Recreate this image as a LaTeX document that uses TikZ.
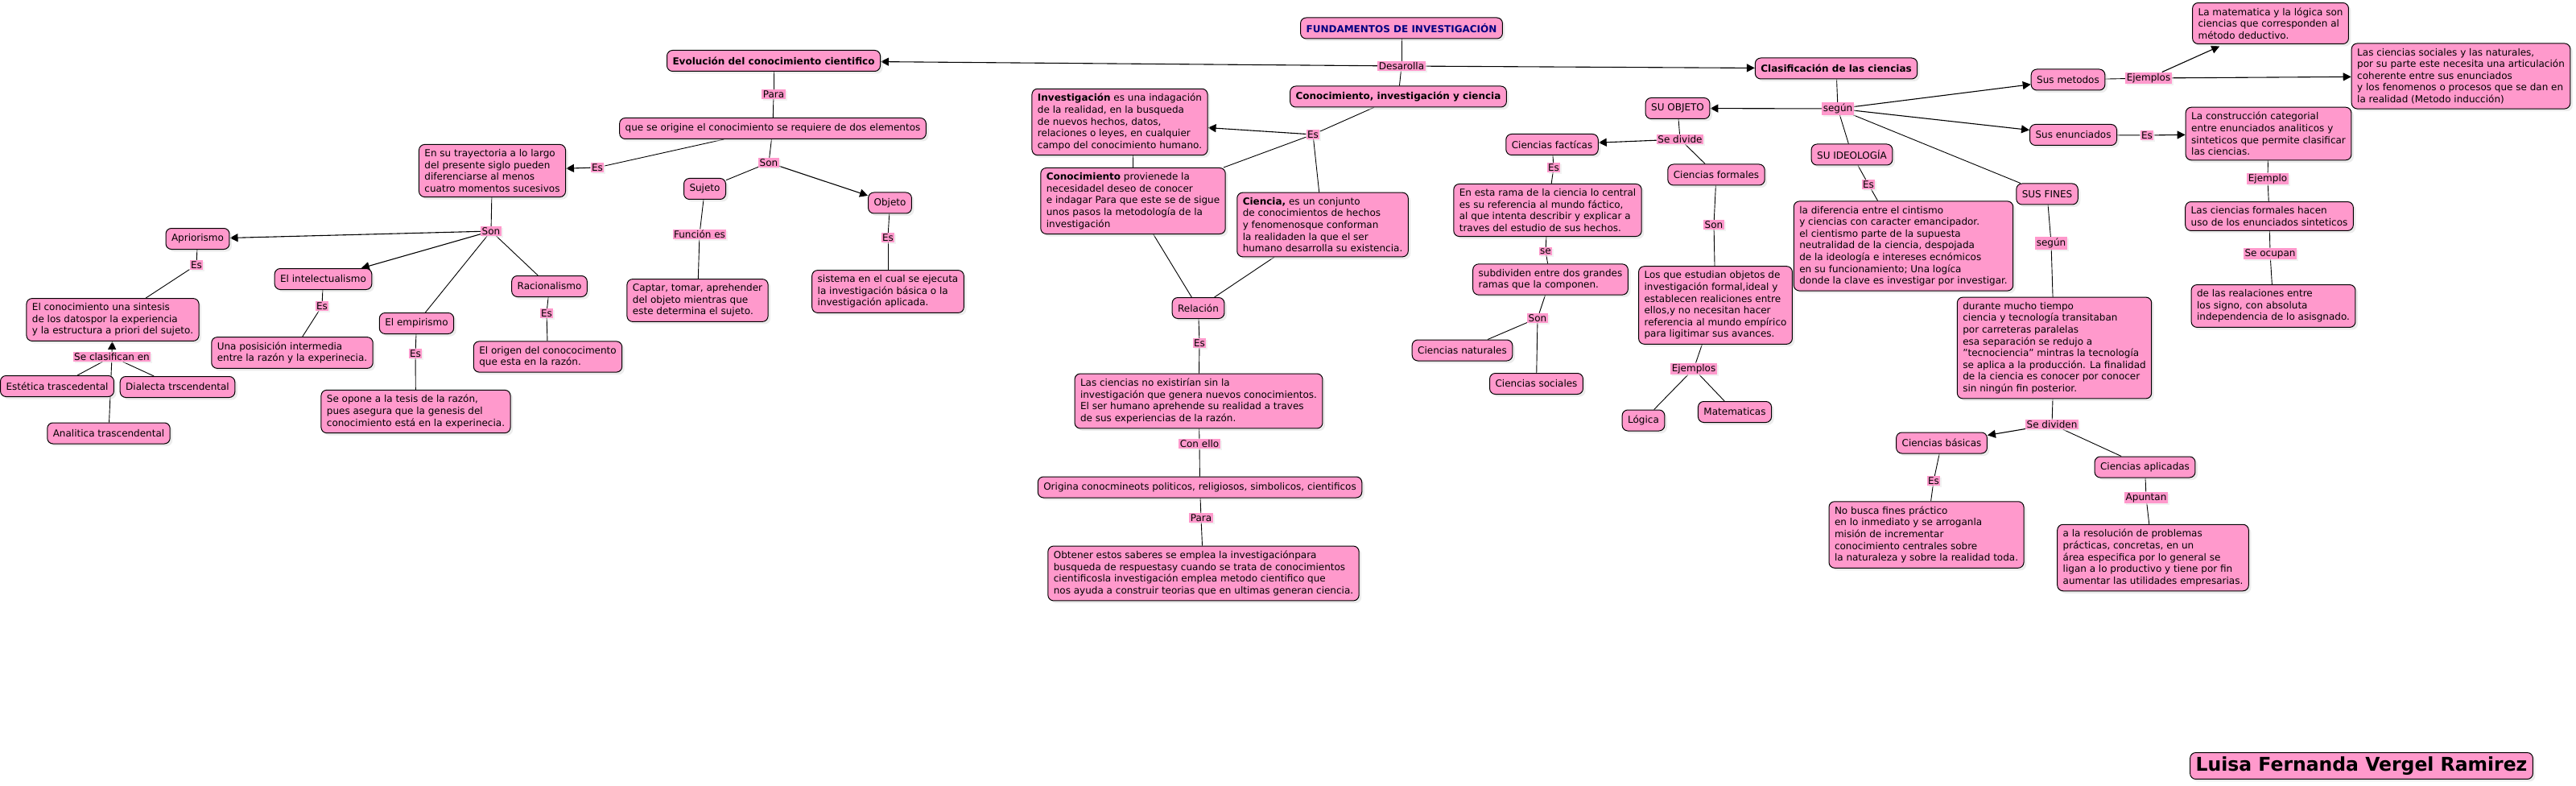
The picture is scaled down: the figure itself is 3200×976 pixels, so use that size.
\documentclass[tikz,border=0pt]{standalone}
\usepackage{fontspec}
\setmainfont{DejaVu Sans}
\usepackage{tikz}
\usetikzlibrary{arrows.meta,shadows,backgrounds}
\definecolor{mappink}{HTML}{FF99CC}
\definecolor{titlenavy}{HTML}{000080}
\newcommand{\mapfont}{\fontsize{12}{14.6}\selectfont}
\tikzset{
  concept/.style={draw=black,line width=1pt,rounded corners=7pt,fill=mappink,align=left,minimum height=26pt,inner xsep=7pt,inner ysep=6pt,font=\mapfont,drop shadow={shadow xshift=3pt,shadow yshift=-3pt,fill=black!15}},
  linkword/.style={fill=mappink,inner sep=1.5pt,font=\mapfont,drop shadow={shadow xshift=2pt,shadow yshift=-2pt,fill=black!10}},
  flow/.style={-{Triangle[length=10pt,width=10pt]},line width=1.1pt},
  treeline/.style={line width=.9pt},
}
\begin{document}
\begin{tikzpicture}[x=1pt,y=-1pt]
  \useasboundingbox (0,0) rectangle (3200,976);
  \node[concept,font=\mapfont\bfseries,text=titlenavy] (fund) at (1741,35) {FUNDAMENTOS DE INVESTIGACIÓN};
  \node[linkword] (desar) at (1741,82) {Desarolla};
  \node[concept,font=\mapfont\bfseries] (cic) at (1737,120) {Conocimiento, investigación y ciencia};
  \node[concept,font=\mapfont\bfseries] (evol) at (961,75.5) {Evolución del conocimiento cientifico};
  \node[concept,font=\mapfont\bfseries] (clasc) at (2281,85) {Clasificación de las ciencias};
  % evolucion
  \node[linkword] (para1) at (961,117) {Para};
  \node[concept] (origine) at (960,159.5) {que se origine el conocimiento se requiere de dos elementos};
  \node[linkword] (es1) at (742,208) {Es};
  \node[concept] (tray) at (611.5,212) {En su trayectoria a lo largo\\del presente siglo pueden\\diferenciarse al menos\\cuatro momentos sucesivos};
  \node[linkword] (son1) at (955,202) {Son};
  \node[concept] (sujeto) at (875.5,234.5) {Sujeto};
  \node[concept] (objeto) at (1105.5,252) {Objeto};
  \node[linkword] (funcion) at (869,291) {Función es};
  \node[linkword] (es2) at (1103,295) {Es};
  \node[concept] (captar) at (866.5,373) {Captar, tomar, aprehender\\del objeto mientras que\\este determina el sujeto.};
  \node[concept] (sistema) at (1103,362) {sistema en el cual se ejecuta\\la investigación básica o la\\investigación aplicada.};
  \node[linkword] (son2) at (610,287) {Son};
  \node[concept] (aprior) at (245.5,296.5) {Apriorismo};
  \node[linkword] (es3) at (244,329) {Es};
  \node[concept] (sintesis) at (140,397) {El conocimiento una sintesis\\de los datospor la experiencia\\y la estructura a priori del sujeto.};
  \node[linkword] (clasif) at (139,443) {Se clasifican en};
  \node[concept] (estetica) at (71,479.5) {Estética trascedental};
  \node[concept] (dialecta) at (220.5,480.5) {Dialecta trscendental};
  \node[concept] (analitica) at (135,538) {Analitica trascendental};
  \node[concept] (intel) at (401.5,346.5) {El intelectualismo};
  \node[linkword] (es4) at (400,380) {Es};
  \node[concept] (posic) at (363,438) {Una posisición intermedia\\entre la razón y la experinecia.};
  \node[concept] (empir) at (517.5,401.5) {El empirismo};
  \node[linkword] (es5) at (516,439) {Es};
  \node[concept] (opone) at (516.5,511) {Se opone a la tesis de la razón,\\pues asegura que la genesis del\\conocimiento está en la experinecia.};
  \node[concept] (racion) at (682.5,355.5) {Racionalismo};
  \node[linkword] (es6) at (679,389) {Es};
  \node[concept] (origen) at (680.5,443) {El origen del conococimento\\que esta en la razón.};
  % conocimiento, investigacion y ciencia
  \node[linkword] (es7) at (1631,167) {Es};
  \node[concept] (invest) at (1391,151.5) {\textbf{Investigación} es una indagación\\de la realidad, en la busqueda\\de nuevos hechos, datos,\\relaciones o leyes, en cualquier\\campo del conocimiento humano.};
  \node[concept] (conoc) at (1407.5,249.5) {\textbf{Conocimiento} provienede la\\necesidadel deseo de conocer\\e indagar Para que este se de sigue\\unos pasos la metodología de la\\investigación};
  \node[concept] (ciencia) at (1643,279) {\textbf{Ciencia,} es un conjunto\\de conocimientos de hechos\\y fenomenosque conforman\\la realidaden la que el ser\\humano desarrolla su existencia.};
  \node[concept] (relacion) at (1488.5,382.5) {Relación};
  \node[linkword] (es8) at (1490,426) {Es};
  \node[concept] (lasc) at (1489,498) {Las ciencias no existirían sin la\\investigación que genera nuevos conocimientos.\\El ser humano aprehende su realidad a traves\\de sus experiencias de la razón.};
  \node[linkword] (conello) at (1490,551) {Con ello};
  \node[concept] (origina) at (1490.5,605) {Origina conocmineots politicos, religiosos, simbolicos, cientificos};
  \node[linkword] (para2) at (1492,643) {Para};
  \node[concept] (obtener) at (1495,712) {Obtener estos saberes se emplea la investigaciónpara\\busqueda de respuestasy cuando se trata de conocimientos\\cientificosla investigación emplea metodo cientifico que\\nos ayuda a construir teorias que en ultimas generan ciencia.};
  % clasificacion
  \node[linkword] (segun1) at (2283,135) {según};
  \node[concept] (suobj) at (2084,134.5) {SU OBJETO};
  \node[linkword] (sedivide) at (2087,173) {Se divide};
  \node[concept] (factic) at (1928,179.5) {Ciencias factícas};
  \node[linkword] (es9) at (1930,208) {Es};
  \node[concept] (rama) at (1922.5,261) {En esta rama de la ciencia lo central\\es su referencia al mundo fáctico,\\al que intenta describir y explicar a\\traves del estudio de sus hechos.};
  \node[linkword] (se) at (1920,312) {se};
  \node[concept] (subdiv) at (1926,347) {subdividen entre dos grandes\\ramas que la componen.};
  \node[linkword] (son3) at (1910,395) {Son};
  \node[concept] (natur) at (1816.5,435) {Ciencias naturales};
  \node[concept] (social) at (1908.5,476.5) {Ciencias sociales};
  \node[concept] (formal) at (2132,217) {Ciencias formales};
  \node[linkword] (son4) at (2129,279) {Son};
  \node[concept] (estud) at (2131,379) {Los que estudian objetos de\\investigación formal,ideal y\\establecen realiciones entre\\ellos,y no necesitan hacer\\referencia al mundo empírico\\para ligitimar sus avances.};
  \node[linkword] (ejem1) at (2104,458) {Ejemplos};
  \node[concept] (logica) at (2041.5,522) {Lógica};
  \node[concept] (matem) at (2155,511.5) {Matematicas};
  \node[concept] (suideo) at (2300.5,192) {SU IDEOLOGÍA};
  \node[linkword] (es10) at (2321,229) {Es};
  \node[concept] (difer) at (2364.5,305.5) {la diferencia entre el cintismo\\y ciencias con caracter emancipador.\\el cientismo parte de la supuesta\\neutralidad de la ciencia, despojada\\de la ideología e intereses ecnómicos\\en su funcionamiento; Una logíca\\donde la clave es investigar por investigar.};
  \node[concept] (susfin) at (2543,241) {SUS FINES};
  \node[linkword] (segun2) at (2548,302) {según};
  \node[concept] (durante) at (2552,432) {durante mucho tiempo\\ciencia y tecnología transitaban\\por carreteras paralelas\\esa separación se redujo a\\"tecnociencia" mintras la tecnología\\se aplica a la producción. La finalidad\\de la ciencia es conocer por conocer\\sin ningún fin posterior.};
  \node[linkword] (sedividen) at (2549,527) {Se dividen};
  \node[concept] (basic) at (2412,550) {Ciencias básicas};
  \node[concept] (aplic) at (2664.5,580) {Ciencias aplicadas};
  \node[linkword] (es11) at (2402,597) {Es};
  \node[concept] (nobusca) at (2393,664) {No busca fines práctico\\en lo inmediato y se arroganla\\misión de incrementar\\conocimiento centrales sobre\\la naturaleza y sobre la realidad toda.};
  \node[linkword] (apuntan) at (2666,618) {Apuntan};
  \node[concept] (resol) at (2674.5,692.5) {a la resolución de problemas\\prácticas, concretas, en un\\área especifica por lo general se\\ligan a lo productivo y tiene por fin\\aumentar las utilidades empresarias.};
  \node[concept] (metod) at (2569,99) {Sus metodos};
  \node[linkword] (ejem2) at (2669,97) {Ejemplos};
  \node[concept] (matlog) at (2820.5,29) {La matematica y la lógica son\\ciencias que corresponden al\\método deductivo.};
  \node[concept] (socnat) at (3057,94.5) {Las ciencias sociales y las naturales,\\por su parte este necesita una articulación\\coherente entre sus enunciados\\y los fenomenos o procesos que se dan en\\la realidad (Metodo inducción)};
  \node[concept] (enunc) at (2575.5,167.5) {Sus enunciados};
  \node[linkword] (es12) at (2667,168) {Es};
  \node[concept] (constr) at (2818,166) {La construcción categorial\\entre enunciados analiticos y\\sinteticos que permite clasificar\\las ciencias.};
  \node[linkword] (ejemplo) at (2817,222) {Ejemplo};
  \node[concept] (formhac) at (2819,268.5) {Las ciencias formales hacen\\uso de los enunciados sinteticos};
  \node[linkword] (seocupan) at (2820,315) {Se ocupan};
  \node[concept] (realac) at (2824,380) {de las realaciones entre\\los signo, con absoluta\\independencia de lo asisgnado.};
  \node[concept,font=\fontsize{23.5}{28}\selectfont\bfseries,inner ysep=5pt] (firma) at (2933.5,951) {Luisa Fernanda Vergel Ramirez};
  \begin{scope}[on background layer]
    \draw[treeline] (fund)--(desar); \draw[treeline] (desar)--(cic);
    \draw[flow] (desar)--(evol); \draw[flow] (desar)--(clasc);
    \draw[treeline] (evol)--(para1); \draw[treeline] (para1)--(origine);
    \draw[treeline] (origine)--(es1); \draw[flow] (es1)--(tray);
    \draw[treeline] (origine)--(son1); \draw[treeline] (son1)--(sujeto); \draw[flow] (son1)--(objeto);
    \draw[treeline] (sujeto)--(funcion); \draw[treeline] (funcion)--(captar);
    \draw[treeline] (objeto)--(es2); \draw[treeline] (es2)--(sistema);
    \draw[treeline] (tray)--(son2);
    \draw[flow] (son2)--(aprior); \draw[flow] (son2)--(intel);
    \draw[treeline] (son2)--(empir); \draw[treeline] (son2)--(racion);
    \draw[treeline] (aprior)--(es3); \draw[treeline] (es3)--(sintesis);
    \draw[flow] (clasif)--(sintesis);
    \draw[treeline] (estetica)--(clasif); \draw[treeline] (dialecta)--(clasif); \draw[treeline] (analitica)--(clasif);
    \draw[treeline] (intel)--(es4); \draw[treeline] (es4)--(posic);
    \draw[treeline] (empir)--(es5); \draw[treeline] (es5)--(opone);
    \draw[treeline] (racion)--(es6); \draw[treeline] (es6)--(origen);
    \draw[treeline] (cic)--(es7); \draw[flow] (es7)--(invest);
    \draw[treeline] (es7)--(conoc); \draw[treeline] (es7)--(ciencia);
    \draw[treeline] (invest.south-|conoc.north)--(conoc.north);
    \draw[treeline] (conoc)--(relacion); \draw[treeline] (ciencia)--(relacion);
    \draw[treeline] (relacion)--(es8); \draw[treeline] (es8)--(lasc);
    \draw[treeline] (lasc)--(conello); \draw[treeline] (conello)--(origina);
    \draw[treeline] (origina)--(para2); \draw[treeline] (para2)--(obtener);
    \draw[treeline] (clasc)--(segun1);
    \draw[flow] (segun1)--(suobj); \draw[treeline] (segun1)--(suideo);
    \draw[flow] (segun1)--(metod); \draw[flow] (segun1)--(enunc);
    \draw[treeline] (segun1)--(susfin);
    \draw[treeline] (suobj)--(sedivide); \draw[flow] (sedivide)--(factic); \draw[treeline] (sedivide)--(formal);
    \draw[treeline] (factic)--(es9); \draw[treeline] (es9)--(rama);
    \draw[treeline] (rama)--(se); \draw[treeline] (se)--(subdiv);
    \draw[treeline] (subdiv)--(son3); \draw[treeline] (son3)--(natur); \draw[treeline] (son3)--(social);
    \draw[treeline] (formal)--(son4); \draw[treeline] (son4)--(estud);
    \draw[treeline] (estud)--(ejem1); \draw[treeline] (ejem1)--(logica); \draw[treeline] (ejem1)--(matem);
    \draw[treeline] (suideo)--(es10); \draw[treeline] (es10)--(difer);
    \draw[treeline] (susfin)--(segun2); \draw[treeline] (segun2)--(durante);
    \draw[treeline] (durante)--(sedividen); \draw[flow] (sedividen)--(basic); \draw[treeline] (sedividen)--(aplic);
    \draw[treeline] (basic)--(es11); \draw[treeline] (es11)--(nobusca);
    \draw[treeline] (aplic)--(apuntan); \draw[treeline] (apuntan)--(resol);
    \draw[treeline] (metod)--(ejem2); \draw[flow,shorten >=6pt] (ejem2)--(matlog); \draw[flow] (ejem2)--(socnat);
    \draw[treeline] (enunc)--(es12); \draw[flow] (es12)--(constr);
    \draw[treeline] (constr)--(ejemplo); \draw[treeline] (ejemplo)--(formhac);
    \draw[treeline] (formhac)--(seocupan); \draw[treeline] (seocupan)--(realac);
  \end{scope}
\end{tikzpicture}
\end{document}
